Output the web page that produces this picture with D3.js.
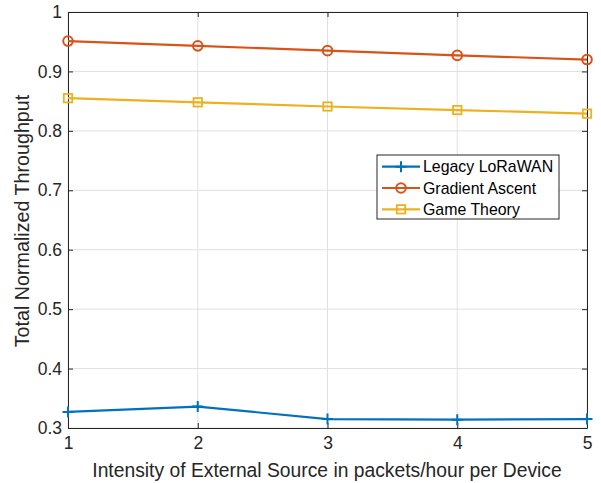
<!DOCTYPE html>
<html><head><meta charset="utf-8">
<script src="https://cdn.jsdelivr.net/npm/d3@7"></script>
<style>body{margin:0;background:#fff}svg{display:block}text{font-family:"Liberation Sans",Arial,sans-serif}</style>
</head><body>
<script>
const xValues = [1, 2, 3, 4, 5];
const legacy = [0.327, 0.336, 0.315, 0.314, 0.315];
const gradient = [0.951, 0.943, 0.935, 0.927, 0.920];
const game = [0.855, 0.848, 0.841, 0.835, 0.829];
const seriesNames = ["Legacy LoRaWAN", "Gradient Ascent", "Game Theory"];
const xTicks = [1, 2, 3, 4, 5];
const yTicks = [0.3, 0.4, 0.5, 0.6, 0.7, 0.8, 0.9, 1];

const W = 601, H = 483;
const m = {l: 68, r: 14, t: 12, b: 55};
const svg = d3.select("body").append("svg").attr("width", W).attr("height", H);
const x = d3.scaleLinear().domain([1, 5]).range([m.l, W - m.r]);
const y = d3.scaleLinear().domain([0.3, 1]).range([H - m.b, m.t]);
const axisCol = "#262626";

// grid
const g = svg.append("g");
g.selectAll(".gx").data(xTicks).enter().append("line")
  .attr("x1", d => x(d)).attr("x2", d => x(d)).attr("y1", m.t).attr("y2", H - m.b)
  .attr("stroke", "#e0e0e0").attr("stroke-width", 1);
g.selectAll(".gy").data(yTicks).enter().append("line")
  .attr("y1", d => y(d)).attr("y2", d => y(d)).attr("x1", m.l).attr("x2", W - m.r)
  .attr("stroke", "#e0e0e0").attr("stroke-width", 1);

// axes
const xa = svg.append("g").attr("transform", `translate(0,${H - m.b})`)
  .call(d3.axisBottom(x).tickValues(xTicks).tickFormat(d3.format("d")).tickSizeInner(-5).tickSizeOuter(0).tickPadding(9));
const ya = svg.append("g").attr("transform", `translate(${m.l},0)`)
  .call(d3.axisLeft(y).tickValues(yTicks).tickFormat(d => d === 1 ? "1" : d3.format(".1f")(d)).tickSizeInner(-5).tickSizeOuter(0).tickPadding(6));
const xt = svg.append("g").attr("transform", `translate(0,${m.t})`)
  .call(d3.axisTop(x).tickValues(xTicks).tickFormat("").tickSizeInner(-5).tickSizeOuter(0));
const yr = svg.append("g").attr("transform", `translate(${W - m.r},0)`)
  .call(d3.axisRight(y).tickValues(yTicks).tickFormat("").tickSizeInner(-5).tickSizeOuter(0));
[xa, ya, xt, yr].forEach(a => {
  a.selectAll("path").attr("stroke", axisCol).attr("stroke-width", 1);
  a.selectAll("line").attr("stroke", axisCol);
  a.selectAll("text").attr("fill", axisCol).style("font-size", "17.5px");
});

// series
const series = [
  {name: seriesNames[0], vals: legacy, color: "#0072BD", marker: "plus"},
  {name: seriesNames[1], vals: gradient, color: "#D95319", marker: "circle"},
  {name: seriesNames[2], vals: game, color: "#EDB120", marker: "square"}
];
const line = d3.line().x((d, i) => x(xValues[i])).y(d => y(d));
function drawMarker(sel, type, cx, cy, color) {
  if (type === "plus") {
    sel.append("path").attr("d", `M${cx-5.5},${cy}H${cx+5.5}M${cx},${cy-5.5}V${cy+5.5}`)
      .attr("stroke", color).attr("stroke-width", 2).attr("fill", "none");
  } else if (type === "circle") {
    sel.append("circle").attr("cx", cx).attr("cy", cy).attr("r", 4.8)
      .attr("stroke", color).attr("stroke-width", 2).attr("fill", "none");
  } else {
    sel.append("rect").attr("x", cx - 4.2).attr("y", cy - 4.2).attr("width", 8.4).attr("height", 8.4)
      .attr("stroke", color).attr("stroke-width", 1.8).attr("fill", "none");
  }
}
series.forEach(s => {
  const gs = svg.append("g");
  gs.append("path").datum(s.vals).attr("d", line).attr("fill", "none")
    .attr("stroke", s.color).attr("stroke-width", 2.2);
  s.vals.forEach((v, i) => drawMarker(gs, s.marker, x(xValues[i]), y(v), s.color));
});

// labels
svg.append("text").attr("x", 327).attr("y", 477).attr("text-anchor", "middle")
  .attr("fill", axisCol).style("font-size", "19.3px").text("Intensity of External Source in packets/hour per Device");
svg.append("text").attr("transform", `translate(29,221) rotate(-90)`)
  .attr("text-anchor", "middle").attr("fill", axisCol).style("font-size", "19.7px").text("Total Normalized Throughput");

// legend
const lg = svg.append("g").attr("transform", "translate(377,155)");
lg.append("rect").attr("width", 182).attr("height", 64).attr("fill", "#fff").attr("stroke", axisCol).attr("stroke-width", 1);
series.forEach((s, i) => {
  const cy = 11.7 + i * 21.3;
  lg.append("line").attr("x1", 5).attr("x2", 43).attr("y1", cy).attr("y2", cy).attr("stroke", s.color).attr("stroke-width", 2.2);
  drawMarker(lg, s.marker, 24, cy, s.color);
  lg.append("text").attr("x", 46).attr("y", cy + 5.6).attr("fill", "#000").style("font-size", "15.9px").text(s.name);
});
</script>
</body></html>
